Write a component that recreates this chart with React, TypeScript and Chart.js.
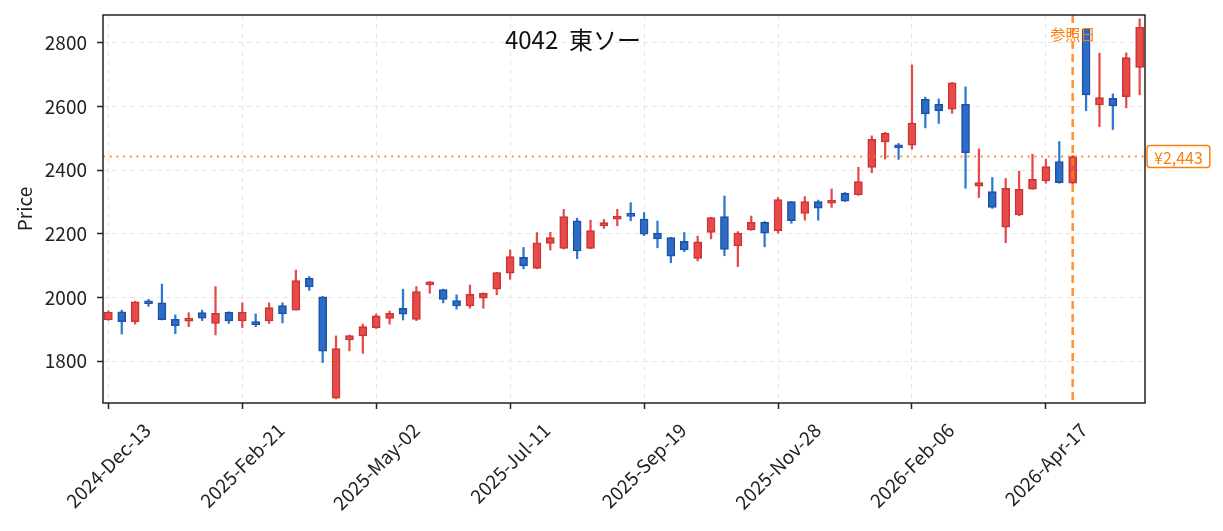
import { useEffect, useRef } from 'react'
import { Chart, registerables } from 'chart.js'

Chart.register(...registerables)

const FONT = "'Noto Sans CJK JP', 'Noto Sans', sans-serif"
const TEXT = '#222222'
const AXIS = '#222222'
const GRID = '#e6e6e6'
const ORANGE = '#ff7f0e'
const UP_FILL = '#e84a4a'
const UP_EDGE = '#c93434'
const DOWN_FILL = '#2a6cc6'
const DOWN_EDGE = '#1d51a3'
const UP_WICK = '#e84a4a'
const DOWN_WICK = '#2e78d2'

const TITLE = '4042  東ソー'

// weekly candles, index 0 = 2024-Dec-13
const tickIndex = [0, 10, 20, 30, 40, 50, 60, 70]
const tickLabels = [
  '2024-Dec-13',
  '2025-Feb-21',
  '2025-May-02',
  '2025-Jul-11',
  '2025-Sep-19',
  '2025-Nov-28',
  '2026-Feb-06',
  '2026-Apr-17',
]
const yTicks = [1800, 2000, 2200, 2400, 2600, 2800]

const opens = [
  1929, 1955, 1924, 1986, 1983, 1931, 1925, 1952, 1918, 1953,
  1926, 1924, 1926, 1974, 1960, 2060, 2002, 1683, 1866, 1879,
  1905, 1934, 1966, 1931, 2039, 2025, 1990, 1973, 1998, 2026,
  2076, 2126, 2091, 2170, 2154, 2241, 2154, 2225, 2246, 2258,
  2246, 2202, 2188, 2176, 2123, 2204, 2254, 2162, 2212, 2236,
  2210, 2301, 2264, 2301, 2296, 2327, 2322, 2409, 2489, 2477,
  2479, 2623, 2607, 2592, 2607, 2350, 2333, 2221, 2259, 2340,
  2366, 2427, 2359, 2844, 2605, 2626, 2631, 2723,
]
const highs = [
  1958, 1960, 1988, 1994, 2042, 1945, 1952, 1960, 2034, 1955,
  1983, 1948, 1983, 1983, 2086, 2066, 2003, 1879, 1882, 1916,
  1948, 1957, 2026, 2034, 2050, 2026, 2008, 2039, 2014, 2079,
  2149, 2157, 2204, 2205, 2277, 2249, 2243, 2245, 2277, 2298,
  2267, 2240, 2189, 2204, 2193, 2252, 2319, 2207, 2256, 2239,
  2314, 2302, 2317, 2306, 2341, 2330, 2409, 2508, 2519, 2484,
  2731, 2630, 2624, 2676, 2662, 2467, 2377, 2374, 2397, 2450,
  2435, 2490, 2446, 2846, 2768, 2640, 2769, 2876,
]
const lows = [
  1928, 1885, 1916, 1972, 1929, 1886, 1908, 1927, 1882, 1918,
  1905, 1908, 1918, 1920, 1960, 2022, 1795, 1681, 1832, 1824,
  1902, 1916, 1929, 1927, 2013, 1983, 1963, 1966, 1966, 2008,
  2057, 2090, 2090, 2149, 2152, 2122, 2153, 2217, 2225, 2241,
  2194, 2156, 2109, 2144, 2115, 2184, 2131, 2097, 2211, 2159,
  2202, 2233, 2243, 2243, 2283, 2302, 2321, 2392, 2435, 2434,
  2466, 2533, 2547, 2579, 2343, 2314, 2280, 2172, 2257, 2340,
  2359, 2359, 2357, 2587, 2537, 2528, 2596, 2637,
]
const closes = [
  1954, 1924, 1986, 1980, 1930, 1911, 1928, 1935, 1950, 1926,
  1953, 1914, 1968, 1948, 2053, 2033, 1831, 1839, 1880, 1908,
  1942, 1950, 1947, 2018, 2049, 1994, 1973, 2010, 2013, 2078,
  2128, 2099, 2172, 2188, 2254, 2146, 2210, 2235, 2254, 2255,
  2199, 2184, 2130, 2149, 2175, 2251, 2151, 2202, 2236, 2202,
  2308, 2241, 2301, 2281, 2306, 2303, 2364, 2497, 2516, 2470,
  2548, 2577, 2587, 2675, 2455, 2361, 2283, 2343, 2340, 2371,
  2411, 2361, 2443, 2637, 2628, 2602, 2754, 2849,
]

const refIndex = 72
const refPrice = 2443

const overlay = {
  id: 'overlay',
  afterDatasetsDraw(chart: Chart) {
    const { ctx, chartArea: a } = chart
    const x = chart.scales.x
    const y = chart.scales.y
    ctx.save()

    // reference price (dotted) and reference date (dashed)
    const py = y.getPixelForValue(refPrice)
    ctx.strokeStyle = ORANGE
    ctx.globalAlpha = 0.85
    ctx.lineWidth = 2
    ctx.setLineDash([2, 4.7])
    ctx.beginPath()
    ctx.moveTo(a.left, py)
    ctx.lineTo(a.right, py)
    ctx.stroke()

    const px = x.getPixelForValue(refIndex)
    ctx.lineWidth = 2.5
    ctx.setLineDash([8, 5])
    ctx.beginPath()
    ctx.moveTo(px, a.top)
    ctx.lineTo(px, a.bottom)
    ctx.stroke()
    ctx.globalAlpha = 1

    // frame
    ctx.setLineDash([])
    ctx.strokeStyle = AXIS
    ctx.lineWidth = 1.5
    ctx.strokeRect(a.left, a.top, a.right - a.left, a.bottom - a.top)

    // title
    ctx.fillStyle = '#111111'
    ctx.font = `24px ${FONT}`
    ctx.textAlign = 'center'
    ctx.textBaseline = 'middle'
    ctx.fillText(TITLE, a.left + (a.right - a.left) * 0.451, a.top + 25)

    // reference date label
    ctx.fillStyle = ORANGE
    ctx.font = `15px ${FONT}`
    ctx.fillText('参照日', px, a.top + 19)

    // price box on the right
    const label = '¥' + refPrice.toLocaleString('en-US')
    ctx.font = `16px ${FONT}`
    const w = ctx.measureText(label).width + 14
    const bx = a.right + 2
    const by = py - 11
    ctx.fillStyle = '#ffffff'
    ctx.strokeStyle = ORANGE
    ctx.lineWidth = 1.5
    ctx.beginPath()
    ctx.roundRect(bx, by, w, 22, 3)
    ctx.fill()
    ctx.stroke()
    ctx.fillStyle = ORANGE
    ctx.textAlign = 'left'
    ctx.fillText(label, bx + 7, py + 1)

    // rotated date labels
    ctx.fillStyle = TEXT
    ctx.font = `19px ${FONT}`
    ctx.textAlign = 'center'
    ctx.textBaseline = 'middle'
    tickIndex.forEach((v, i) => {
      const tx = x.getPixelForValue(v)
      const tw = ctx.measureText(tickLabels[i]).width
      const cy = a.bottom + 17 + (tw + 19) * 0.354
      ctx.save()
      ctx.translate(tx, cy)
      ctx.rotate(-Math.PI / 4)
      ctx.fillText(tickLabels[i], 0, 0)
      ctx.restore()
    })

    ctx.restore()
  },
}

export default function App() {
  const canvasRef = useRef<HTMLCanvasElement>(null)
  const chartRef = useRef<Chart | null>(null)

  useEffect(() => {
    const canvas = canvasRef.current
    if (!canvas) return
    chartRef.current?.destroy()

    const isUp = opens.map((o, i) => closes[i] >= o)

    chartRef.current = new Chart(canvas, {
      type: 'bar',
      data: {
        datasets: [
          {
            label: 'body',
            data: opens.map((o, i) => ({ x: i, y: [o, closes[i]] })) as any,
            backgroundColor: isUp.map((u) => (u ? UP_FILL : DOWN_FILL)),
            borderColor: isUp.map((u) => (u ? UP_EDGE : DOWN_EDGE)),
            borderWidth: 1.5,
            borderSkipped: false,
            barThickness: 8,
            minBarLength: 3,
            grouped: false,
            order: 0,
          },
          {
            label: 'wick',
            data: lows.map((l, i) => ({ x: i, y: [l, highs[i]] })) as any,
            backgroundColor: isUp.map((u) => (u ? UP_WICK : DOWN_WICK)),
            borderWidth: 0,
            barThickness: 1.6,
            grouped: false,
            order: 1,
          },
        ],
      },
      options: {
        responsive: false,
        animation: false,
        events: [],
        layout: { padding: { left: 0, top: 15, right: 78, bottom: 0 } },
        plugins: { legend: { display: false }, tooltip: { enabled: false } },
        scales: {
          x: {
            type: 'linear',
            min: -0.4,
            max: 77.4,
            bounds: 'data',
            offset: false,
            afterBuildTicks: (s: any) => {
              s.ticks = tickIndex.map((v) => ({ value: v }))
            },
            afterFit: (s: any) => {
              s.height = 128
              s.paddingLeft = 0
              s.paddingRight = 0
            },
            ticks: { display: false },
            grid: {
              offset: false,
              color: GRID,
              lineWidth: 1,
              drawTicks: true,
              tickLength: 6,
              tickColor: AXIS,
              tickWidth: 1.5,
              tickBorderDash: [],
            },
            border: { display: false, dash: [5, 4] },
          },
          y: {
            type: 'linear',
            min: 1668,
            max: 2888,
            bounds: 'data',
            afterBuildTicks: (s: any) => {
              s.ticks = yTicks.map((v) => ({ value: v }))
            },
            afterFit: (s: any) => {
              s.width = 103
              s.paddingTop = 0
              s.paddingBottom = 0
            },
            ticks: {
              color: TEXT,
              font: { family: FONT, size: 19 },
              padding: 10,
              callback: (v: any) => String(v),
            },
            grid: {
              color: GRID,
              lineWidth: 1,
              drawTicks: true,
              tickLength: 6,
              tickColor: AXIS,
              tickWidth: 1.5,
              tickBorderDash: [],
            },
            border: { display: false, dash: [5, 4] },
            title: {
              display: true,
              text: 'Price',
              color: TEXT,
              font: { family: FONT, size: 19 },
              padding: { top: 13, bottom: 0 },
            },
          },
        },
      },
      plugins: [overlay],
    })

    return () => {
      chartRef.current?.destroy()
      chartRef.current = null
    }
  }, [])

  return (
    <div style={{ position: 'absolute', left: 0, top: 0, width: 1223, height: 531, background: '#ffffff' }}>
      <canvas ref={canvasRef} width={1223} height={531} style={{ width: 1223, height: 531, display: 'block' }} />
    </div>
  )
}
